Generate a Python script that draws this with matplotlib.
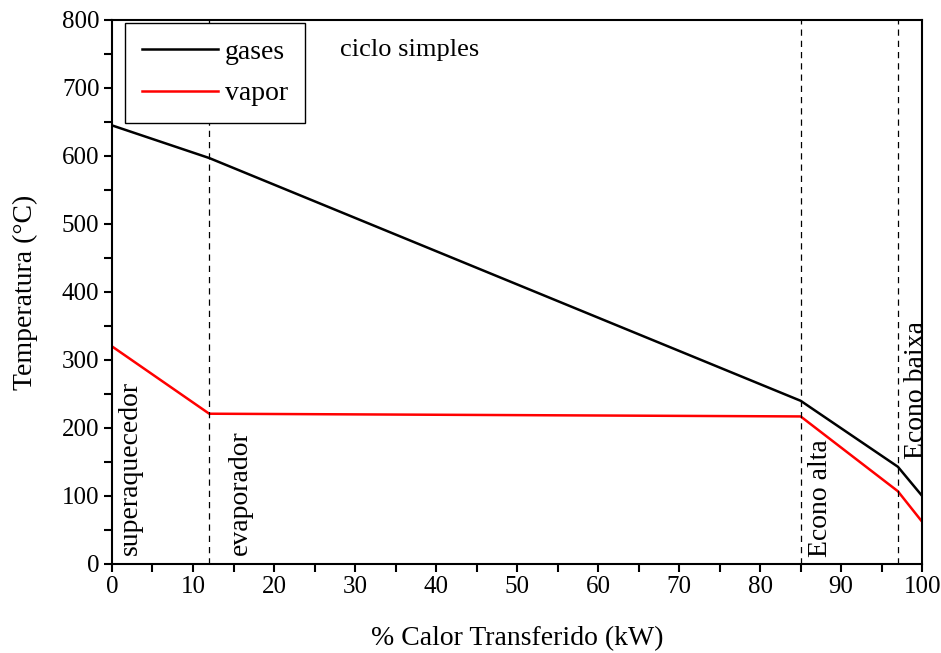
import matplotlib
matplotlib.use("Agg")
import matplotlib.pyplot as plt
from matplotlib.ticker import MultipleLocator

plt.rcParams['font.family'] = ['Liberation Serif', 'DejaVu Serif']
plt.rcParams['mathtext.fontset'] = 'stix'

# Data
x_pts = [0, 12, 85, 97, 100]
gases = [645, 597, 240, 143, 100]
vapor = [320, 221, 217, 107, 62]
section_bounds = [12, 85, 97]
section_labels = ["superaquecedor", "evaporador", "Econo alta", "Econo baixa"]
section_label_x = [2.3, 15.8, 87.5, 99.3]
section_label_y = [13, 13, 10, 154]

fig = plt.figure(figsize=(9.41, 6.53), dpi=100)
ax = fig.add_axes([0.119, 0.1363, 0.861, 0.8331])

ax.plot(x_pts, gases, color='black', lw=1.8, label='gases')
ax.plot(x_pts, vapor, color='red', lw=1.8, label='vapor')

for xb in section_bounds:
    ax.axvline(xb, color='black', lw=0.9, ls=(0, (5, 4)))

for lab, lx, ly in zip(section_labels, section_label_x, section_label_y):
    ax.text(lx, ly, lab, rotation=90, ha='center', va='bottom', fontsize=20)

ax.text(28.1, 756, "ciclo simples", ha='left', va='center', fontsize=19)

ax.set_xlim(0, 100)
ax.set_ylim(0, 800)
ax.xaxis.set_major_locator(MultipleLocator(10))
ax.xaxis.set_minor_locator(MultipleLocator(5))
ax.yaxis.set_major_locator(MultipleLocator(100))
ax.yaxis.set_minor_locator(MultipleLocator(50))
ax.tick_params(which='both', direction='out', length=6, width=1.5, labelsize=18, pad=3)
ax.tick_params(which='minor', length=6)
for s in ax.spines.values():
    s.set_linewidth(1.5)

ax.set_xlabel("% Calor Transferido (kW)", fontsize=20, labelpad=20)
ax.set_ylabel("Temperatura (°C)", fontsize=20, labelpad=17)

leg = ax.legend(loc='upper left', bbox_to_anchor=(0.016, 0.9945), borderaxespad=0,
                fancybox=False, edgecolor='black', fontsize=20, handlelength=2.75,
                handletextpad=0.25, labelspacing=0.57, borderpad=0.6, framealpha=1)
leg.get_frame().set_linewidth(1.0)

fig.savefig("out.png", dpi=100)
